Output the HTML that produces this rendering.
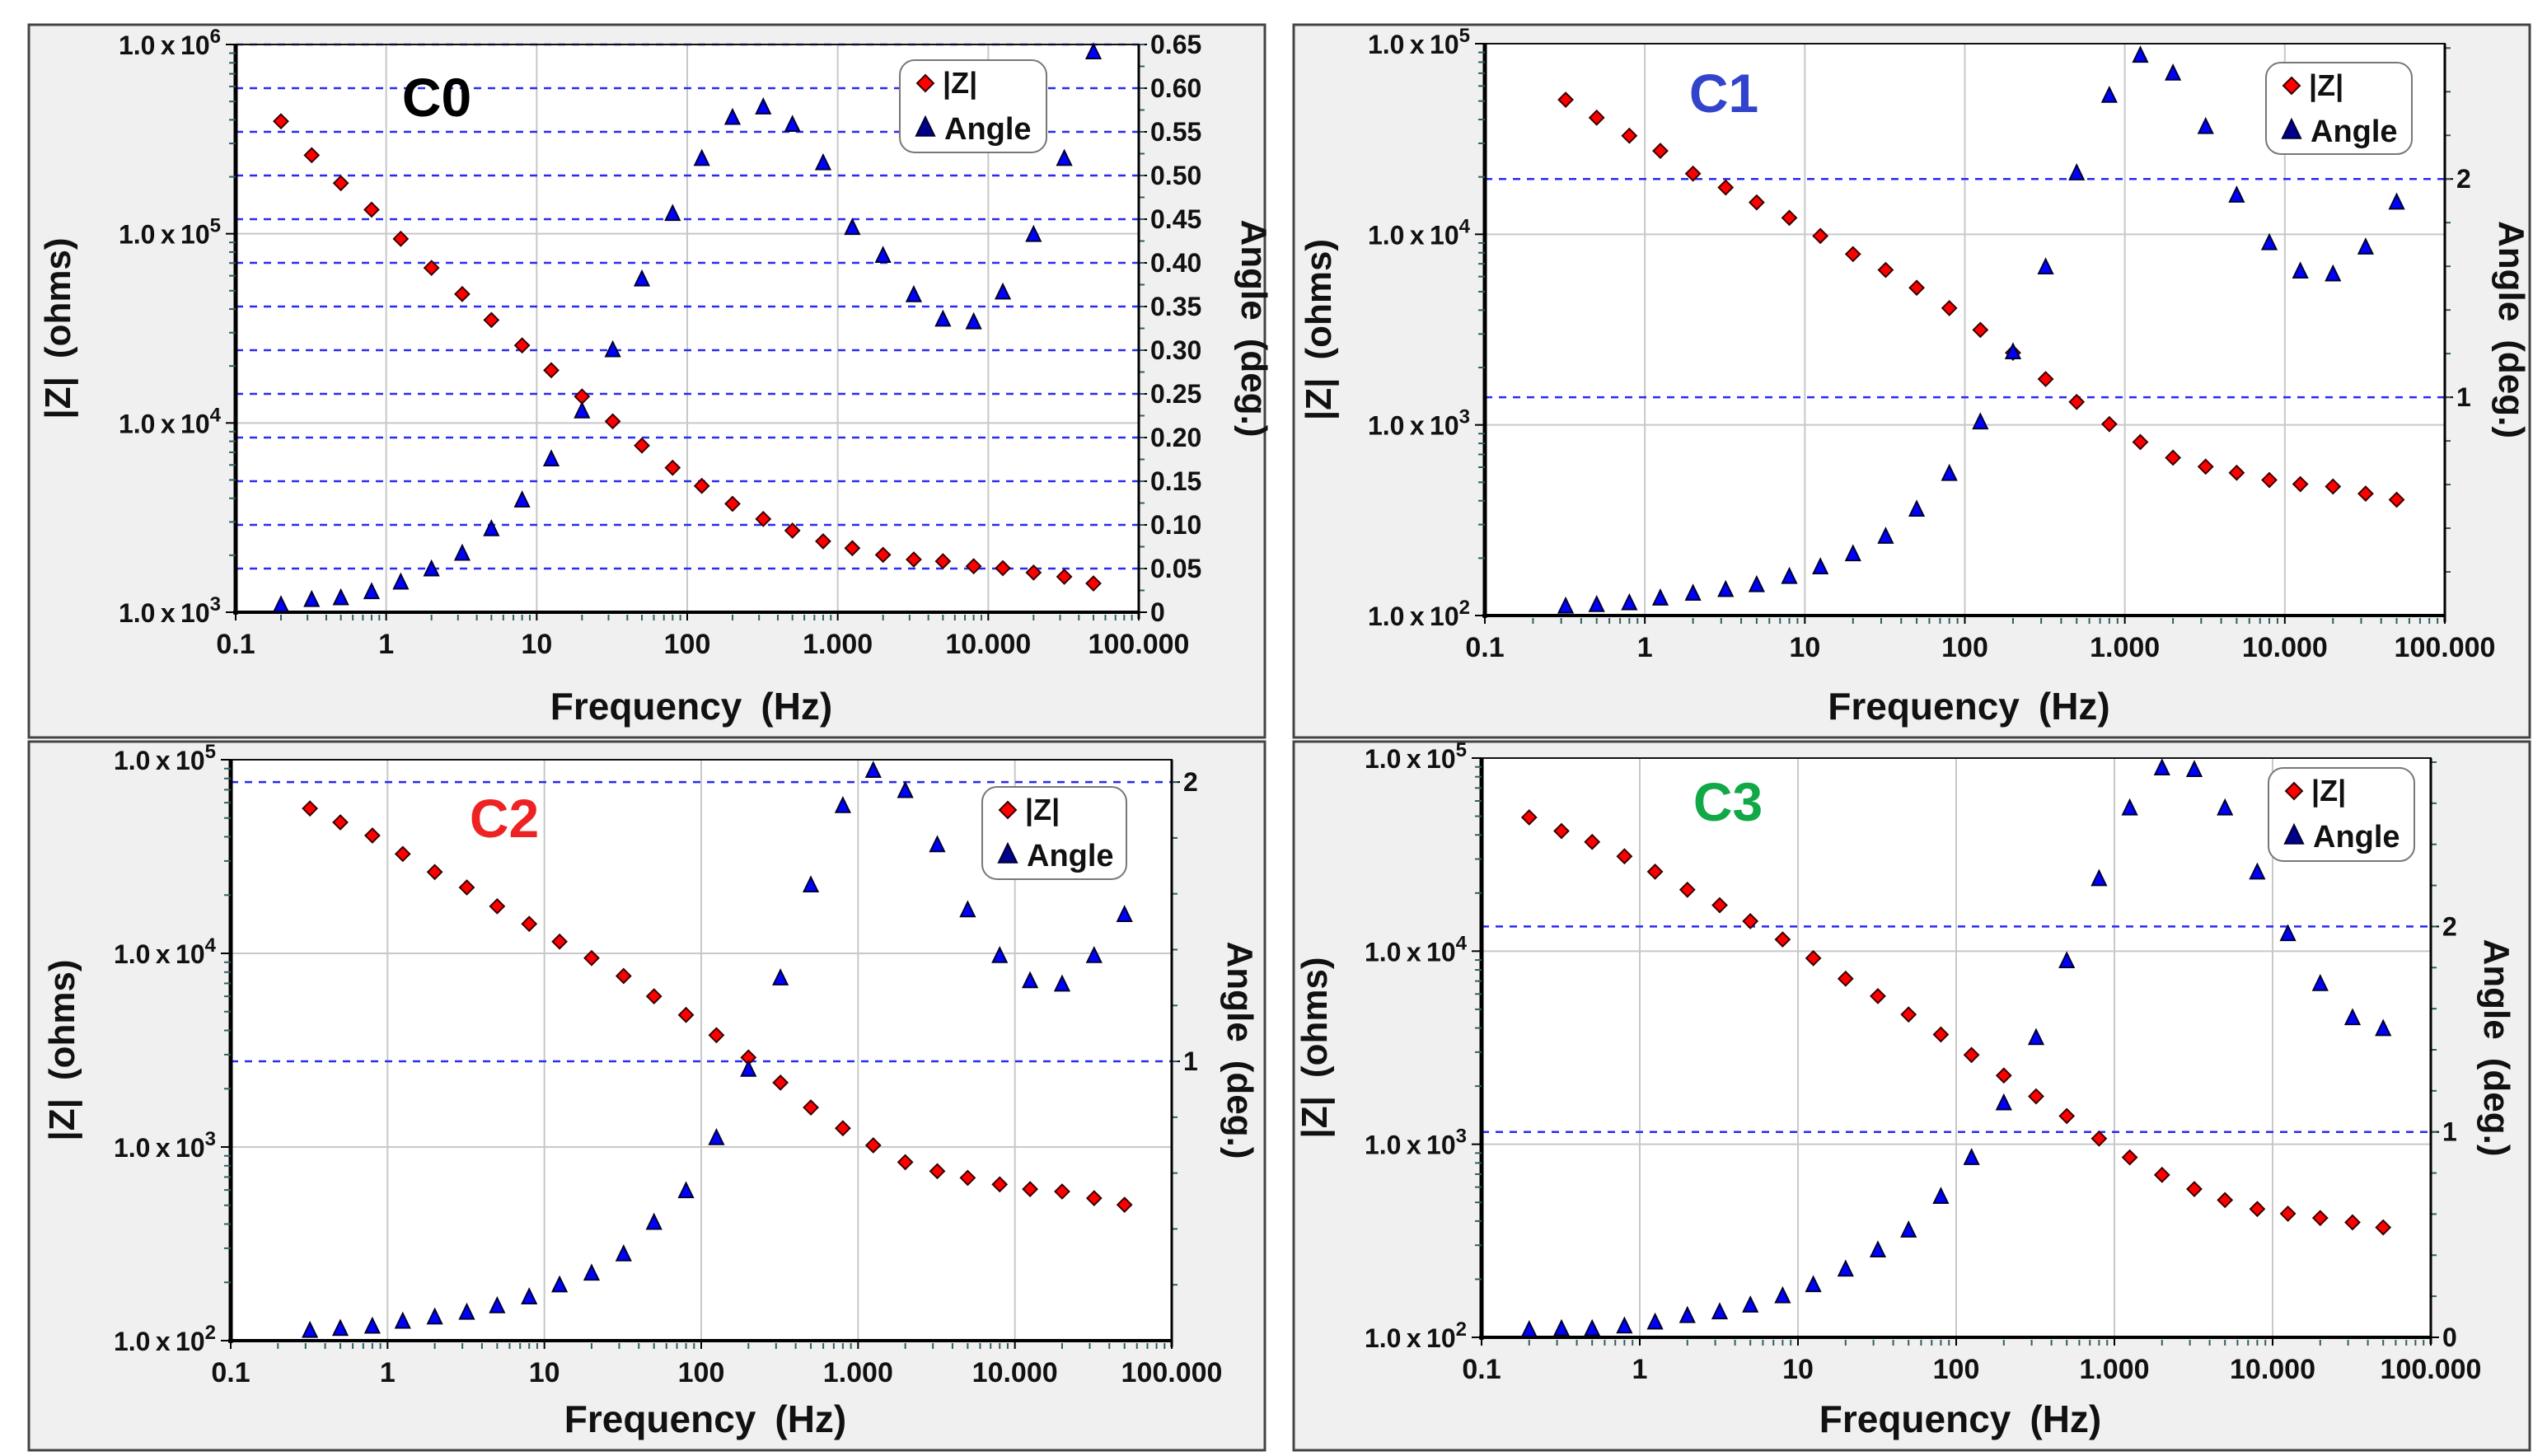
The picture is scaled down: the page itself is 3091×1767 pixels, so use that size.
<!DOCTYPE html>
<html><head><meta charset="utf-8">
<style>
html,body{margin:0;padding:0;background:#fff;}
svg{display:block;}
text{font-family:"Liberation Sans Narrow","Liberation Sans",Arial,sans-serif;font-weight:bold;fill:#111;}
.wide{font-family:"Liberation Sans",Arial,sans-serif;}
</style></head>
<body>
<svg id="chart" xmlns="http://www.w3.org/2000/svg" width="3091" height="1767" viewBox="0 0 3091 1767"></svg>
<script>
// ---- data ----
const freqC0 = [0.2,0.32,0.5,0.8,1.25,2,3.2,5,8,12.5,20,32,50,80,125,200,320,500,800,1250,2000,3200,5000,8000,12500,20000,32000,50000];
const zC0 = [3.93e5,2.6e5,1.85e5,1.34e5,9.4e4,6.6e4,4.8e4,3.5e4,2.57e4,1.9e4,1.38e4,1.02e4,7.6e3,5.8e3,4.65e3,3.74e3,3.11e3,2.7e3,2.37e3,2.18e3,2.01e3,1.9e3,1.86e3,1.75e3,1.71e3,1.62e3,1.54e3,1.42e3];
const angC0 = [0.008,0.014,0.016,0.023,0.034,0.049,0.067,0.095,0.128,0.175,0.23,0.30,0.381,0.456,0.519,0.566,0.578,0.558,0.514,0.44,0.408,0.363,0.335,0.332,0.366,0.432,0.519,0.641];

const freqC1 = [0.32,0.5,0.8,1.25,2,3.2,5,8,12.5,20,32,50,80,125,200,320,500,800,1250,2000,3200,5000,8000,12500,20000,32000,50000];
const zC1 = [5.08e4,4.09e4,3.29e4,2.74e4,2.08e4,1.76e4,1.47e4,1.22e4,9.8e3,7.87e3,6.5e3,5.24e3,4.1e3,3.15e3,2.39e3,1.74e3,1.32e3,1.01e3,813,673,604,561,514,489,475,436,405];
const angC1 = [0.041,0.048,0.056,0.078,0.1,0.117,0.139,0.177,0.221,0.281,0.361,0.485,0.649,0.885,1.206,1.595,2.026,2.381,2.565,2.483,2.238,1.924,1.706,1.576,1.563,1.686,1.892];

const freqC2 = [0.32,0.5,0.8,1.25,2,3.2,5,8,12.5,20,32,50,80,125,200,320,500,800,1250,2000,3200,5000,8000,12500,20000,32000,50000];
const zC2 = [5.6e4,4.75e4,4.06e4,3.26e4,2.63e4,2.19e4,1.75e4,1.42e4,1.15e4,9.46e3,7.64e3,6e3,4.81e3,3.78e3,2.9e3,2.15e3,1.6e3,1.25e3,1.02e3,835,750,693,641,606,589,544,503];
const angC2 = [0.035,0.042,0.05,0.068,0.083,0.1,0.123,0.155,0.198,0.24,0.309,0.422,0.535,0.725,0.97,1.297,1.63,1.914,2.04,1.968,1.774,1.541,1.377,1.287,1.275,1.377,1.524];

const freqC3 = [0.2,0.32,0.5,0.8,1.25,2,3.2,5,8,12.5,20,32,50,80,125,200,320,500,800,1250,2000,3200,5000,8000,12500,20000,32000,50000];
const zC3 = [4.93e4,4.19e4,3.68e4,3.1e4,2.58e4,2.08e4,1.73e4,1.43e4,1.15e4,9.2e3,7.2e3,5.85e3,4.7e3,3.7e3,2.9e3,2.27e3,1.77e3,1.4e3,1.07e3,855,694,586,514,462,437,415,394,371];
const angC3 = [0.035,0.04,0.04,0.053,0.072,0.104,0.122,0.155,0.2,0.254,0.33,0.423,0.52,0.684,0.873,1.139,1.457,1.831,2.231,2.575,2.77,2.762,2.575,2.263,1.963,1.72,1.554,1.501];

const xTickLabels = ["0.1","1","10","100","1.000","10.000","100.000"];
const angTicksC0 = ["0","0.05","0.10","0.15","0.20","0.25","0.30","0.35","0.40","0.45","0.50","0.55","0.60","0.65"];
const angTicksC1 = ["1","2"];
const angTicksC2 = ["1","2"];
const angTicksC3 = ["0","1","2"];

const NS = "http://www.w3.org/2000/svg";
const svg = document.getElementById("chart");
function mk(tag, attrs, parent){
  const e = document.createElementNS(NS, tag);
  for (const k in attrs) e.setAttribute(k, attrs[k]);
  (parent||svg).appendChild(e);
  return e;
}

const panels = [
 {id:"c0", label:"C0", color:"#000", box:[35,30,1500,865], plot:[286,54,1382,743], zMin:3, zMax:6,
  aMin:0, aMax:0.65, aStep:0.05, aTicks:angTicksC0, freq:freqC0, z:zC0, ang:angC0,
  lbl:[530,117], leg:[1092,73,178,112], ytX:70, atX:1522},
 {id:"c1", label:"C1", color:"#3344cc", box:[1570,30,1500,865], plot:[1802,53,2967,747], zMin:2, zMax:5,
  aMin:0, aMax:2.62, aStep:1, aTicks:angTicksC1, freq:freqC1, z:zC1, ang:angC1,
  lbl:[2092,112], leg:[2750,76,177,111], ytX:1600, atX:3048},
 {id:"c2", label:"C2", color:"#ee2222", box:[35,900,1500,860], plot:[280,922,1422,1627], zMin:2, zMax:5,
  aMin:0, aMax:2.08, aStep:1, aTicks:angTicksC2, freq:freqC2, z:zC2, ang:angC2,
  lbl:[612,992], leg:[1192,955,175,112], ytX:75, atX:1505},
 {id:"c3", label:"C3", color:"#11a848", box:[1570,900,1500,860], plot:[1798,920,2950,1623], zMin:2, zMax:5,
  aMin:0, aMax:2.82, aStep:1, aTicks:angTicksC3, freq:freqC3, z:zC3, ang:angC3,
  lbl:[2097,972], leg:[2753,932,177,113], ytX:1595, atX:3030}
];

function diamond(g, x, y, r, fill){
  return mk("polygon",{points:`${x},${y-r} ${x+r},${y} ${x},${y+r} ${x-r},${y}`, fill:fill, stroke:"#3a0000","stroke-width":2}, g);
}
function tri(g, x, y, r, fill){
  return mk("polygon",{points:`${x},${y-r} ${x+r*0.85},${y+r*0.75} ${x-r*0.85},${y+r*0.75}`, fill:fill, stroke:"#000033","stroke-width":2}, g);
}

panels.forEach(P=>{
  const [L,T,R,B] = P.plot;
  const xs = f => L + (Math.log10(f) + 1) / 6 * (R - L);
  const ys = z => B - (Math.log10(z) - P.zMin) / (P.zMax - P.zMin) * (B - T);
  const ya = a => B - (a - P.aMin) / (P.aMax - P.aMin) * (B - T);

  const g = mk("g",{});
  
  
  const bg = mk("rect",{x:P.box[0],y:P.box[1],width:P.box[2],height:P.box[3],fill:"#f0f0f0",stroke:"#444","stroke-width":3}, g);
  
  
  const pa = mk("rect",{x:L,y:T,width:R-L,height:B-T,fill:"#fff"}, g);
  
  

  for (let d=1; d<6; d++){
    const x = L + d/6*(R-L);
    const gl = mk("line",{x1:x,y1:T,x2:x,y2:B,stroke:"#c8c8c8","stroke-width":2}, g);
    
    
  }
  for (let e=P.zMin+1; e<P.zMax; e++){
    const y = ys(Math.pow(10,e));
    const gl = mk("line",{x1:L,y1:y,x2:R,y2:y,stroke:"#c8c8c8","stroke-width":2}, g);
    
    
  }
  const aStart = P.aTicks[0]==="0" ? 0 : 1;
  for (let i=0;i<P.aTicks.length;i++){
    const a = (aStart + i) * P.aStep;
    const y = ya(a);
    const dl = mk("line",{x1:L,y1:y,x2:R,y2:y,stroke:"#2a2af0","stroke-width":2.5,"stroke-dasharray":"9 8"}, g);
    
    
    mk("line",{x1:R,y1:y,x2:R+10,y2:y,stroke:"#000","stroke-width":2}, g);
    const t = mk("text",{x:R+14,y:y+11,"font-size":32}, g);
    t.textContent = P.aTicks[i];
    
    
  }
  const nMinor = Math.floor((P.aMax-P.aMin)/ (P.aStep/ (P.aStep===1?5:2)));
  for (let i=1;i<=nMinor;i++){
    const y = ya(i*(P.aStep/(P.aStep===1?5:2)));
    if (y<T) break;
    mk("line",{x1:R,y1:y,x2:R+7,y2:y,stroke:"#2f5f5f","stroke-width":2}, g);
  }
  mk("rect",{x:L,y:T,width:R-L,height:B-T,fill:"none",stroke:"#111","stroke-width":2}, g);
  mk("line",{x1:L,y1:T,x2:L,y2:B+3,stroke:"#000","stroke-width":5}, g);
  mk("line",{x1:L-3,y1:B,x2:R,y2:B,stroke:"#000","stroke-width":4}, g);
  mk("line",{x1:R,y1:T,x2:R,y2:B+8,stroke:"#000","stroke-width":3}, g);

  for (let d=0; d<=6; d++){
    const x = L + d/6*(R-L);
    mk("line",{x1:x,y1:B,x2:x,y2:B+10,stroke:"#000","stroke-width":2}, g);
    const t = mk("text",{x:x,y:B+50,"font-size":34,"text-anchor":"middle"}, g);
    t.textContent = xTickLabels[d];
    
    
    if (d<6) for (let m=2;m<=9;m++){
      const xm = xs(Math.pow(10,d-1)*m);
      mk("line",{x1:xm,y1:B+3,x2:xm,y2:B+10,stroke:"#2f5f5f","stroke-width":2}, g);
    }
  }
  for (let e=P.zMin; e<=P.zMax; e++){
    const y = ys(Math.pow(10,e));
    mk("line",{x1:L-12,y1:y,x2:L,y2:y,stroke:"#000","stroke-width":2}, g);
    const t = mk("text",{x:L-18,y:y+12,"font-size":32,"text-anchor":"end"}, g);
    const s1 = mk("tspan",{}, t); s1.textContent = "1.0\u2009x\u200910";
    const s2 = mk("tspan",{dy:-14,"font-size":24}, t); s2.textContent = String(e);
    
    
    if (e<P.zMax) for (let m=2;m<=9;m++){
      const ym = ys(Math.pow(10,e)*m);
      mk("line",{x1:L-8,y1:ym,x2:L,y2:ym,stroke:"#2f5f5f","stroke-width":2}, g);
    }
  }

  const xt = mk("text",{x:(L+R)/2+5,y:P.box[1]+P.box[3]-22,"font-size":46,"text-anchor":"middle"}, g);
  xt.textContent = "Frequency\u2002(Hz)";
  
  
  const yc = (T+B)/2;
  const yt = mk("text",{x:P.ytX,y:yc,"font-size":44,"text-anchor":"middle",transform:`rotate(-90 ${P.ytX} ${yc})`,"class":"wide",dy:15}, g);
  yt.textContent = "|Z|\u2002(ohms)";
  
  
  const at = mk("text",{x:P.atX,y:yc,"font-size":44,"text-anchor":"middle",transform:`rotate(90 ${P.atX} ${yc})`,"class":"wide",dy:15}, g);
  at.textContent = "Angle\u2002(deg.)";
  
  

  const pl = mk("text",{x:P.lbl[0],y:P.lbl[1]+24,"font-size":66,"text-anchor":"middle","class":"wide"}, g);
  pl.setAttribute("style","fill:"+P.color);
  pl.textContent = P.label;
  
  

  const gz = mk("g",{}, g);
  
  
  P.freq.forEach((f,i)=>{
    const p = diamond(gz, xs(f), ys(P.z[i]), 8.5, "#ff0000");
    
    
  });
  const ga = mk("g",{}, g);
  
  
  P.freq.forEach((f,i)=>{
    const p = tri(ga, xs(f), ya(P.ang[i]), 10, "#0000ff");
    
    
  });

  const [lx,ly,lw,lh] = P.leg;
  const lg = mk("g",{}, g);
  
  
  mk("rect",{x:lx,y:ly,width:lw,height:lh,rx:18,fill:"#fff",stroke:"#777","stroke-width":2}, lg);
  const d = diamond(lg, lx+31, ly+28, 10, "#ff0000");
  
  
  const t1 = mk("text",{x:lx+52,y:ly+40,"font-size":36,"class":"wide"}, lg);
  t1.textContent = "|Z|";
  
  
  const tr = tri(lg, lx+31, ly+82, 13, "#00008b");
  
  
  const t2 = mk("text",{x:lx+54,y:ly+96,"font-size":38,"class":"wide"}, lg);
  t2.textContent = "Angle";
  
  
});
</script>
</body></html>
